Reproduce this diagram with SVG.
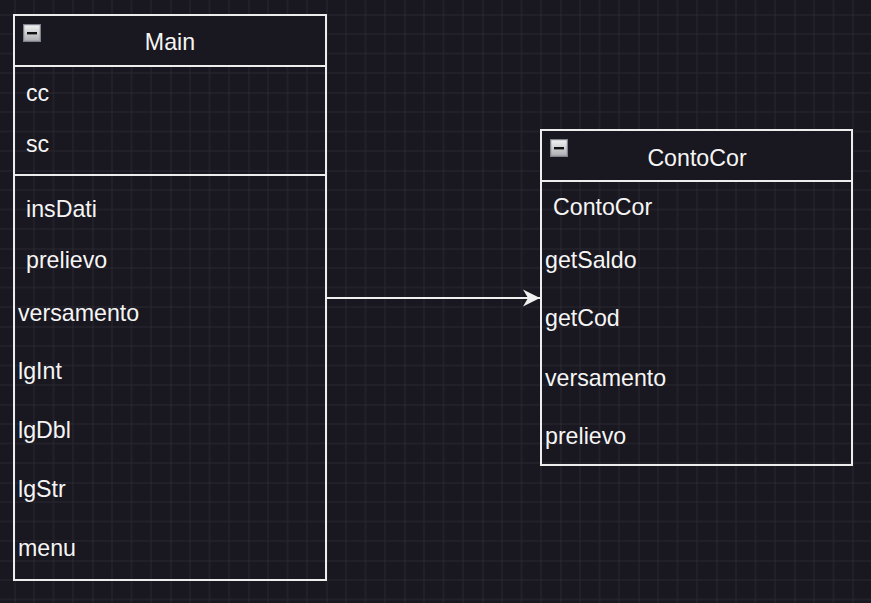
<svg xmlns="http://www.w3.org/2000/svg" width="871" height="603" viewBox="0 0 871 603">
<defs>
<pattern id="grid" patternUnits="userSpaceOnUse" x="14.5" y="14.5" width="78" height="78">
<path d="M19.5 0V78M39 0V78M58.5 0V78M0 19.5H78M0 39H78M0 58.5H78" stroke="#29272f" stroke-width="1" fill="none"/>
<path d="M0 0V78M0 0H78" stroke="#38363e" stroke-width="1" fill="none"/>
</pattern>
<linearGradient id="ig" x1="0" y1="0" x2="0" y2="1">
<stop offset="0" stop-color="#f4f4f4"/>
<stop offset="1" stop-color="#a9abb0"/>
</linearGradient>
<marker id="arr" markerUnits="userSpaceOnUse" markerWidth="20" markerHeight="20" viewBox="0 0 20 20" refX="18" refY="10" orient="auto">
<path d="M1 1.5 L18 10 L1 18.5 L6 10 Z" fill="#f0f0f0"/>
</marker>
<symbol id="icon" viewBox="0 0 18 18">
<rect x="0.5" y="0.5" width="17" height="17" fill="url(#ig)" stroke="#7d828c" stroke-width="1.5"/>
<rect x="4" y="8" width="10" height="2.4" fill="#111"/>
</symbol>
</defs>
<style>
text{font-family:"Liberation Sans",Arial,sans-serif;font-size:23.2px;fill:#f5f5f5}
.t{text-anchor:middle}
.box{fill:none;stroke:#ededed;stroke-width:2}
.hdr{fill:#19171f}
.sep{stroke:#ededed;stroke-width:2}
</style>
<rect width="871" height="603" fill="#19171f"/>
<rect width="871" height="603" fill="url(#grid)"/>
<g id="Main">
<rect class="hdr" x="14" y="15" width="312" height="51"/>
<rect class="box" x="14" y="15" width="312" height="565"/>
<line class="sep" x1="14" y1="66" x2="326" y2="66"/>
<line class="sep" x1="14" y1="175" x2="326" y2="175"/>
<use href="#icon" x="23" y="24" width="18" height="18"/>
<text class="t" x="170" y="50">Main</text>
<text x="26" y="101">cc</text>
<text x="26" y="152">sc</text>
<text x="26" y="217">insDati</text>
<text x="26" y="268">prelievo</text>
<text x="18" y="321">versamento</text>
<text x="18" y="379">lgInt</text>
<text x="18" y="438">lgDbl</text>
<text x="18" y="497">lgStr</text>
<text x="18" y="555.5">menu</text>
</g>
<g id="ContoCor">
<rect class="hdr" x="541" y="130" width="311" height="51"/>
<rect class="box" x="541" y="130" width="311" height="335"/>
<line class="sep" x1="541" y1="181" x2="852" y2="181"/>
<use href="#icon" x="550" y="139" width="18" height="18"/>
<text class="t" x="697" y="166">ContoCor</text>
<text x="553" y="215">ContoCor</text>
<text x="545" y="268">getSaldo</text>
<text x="545" y="326">getCod</text>
<text x="545" y="385.5">versamento</text>
<text x="545" y="443.5">prelievo</text>
</g>
<g id="connectors">
<line x1="327" y1="298" x2="540" y2="298" stroke="#f0f0f0" stroke-width="2" marker-end="url(#arr)"/>
</g>
</svg>
